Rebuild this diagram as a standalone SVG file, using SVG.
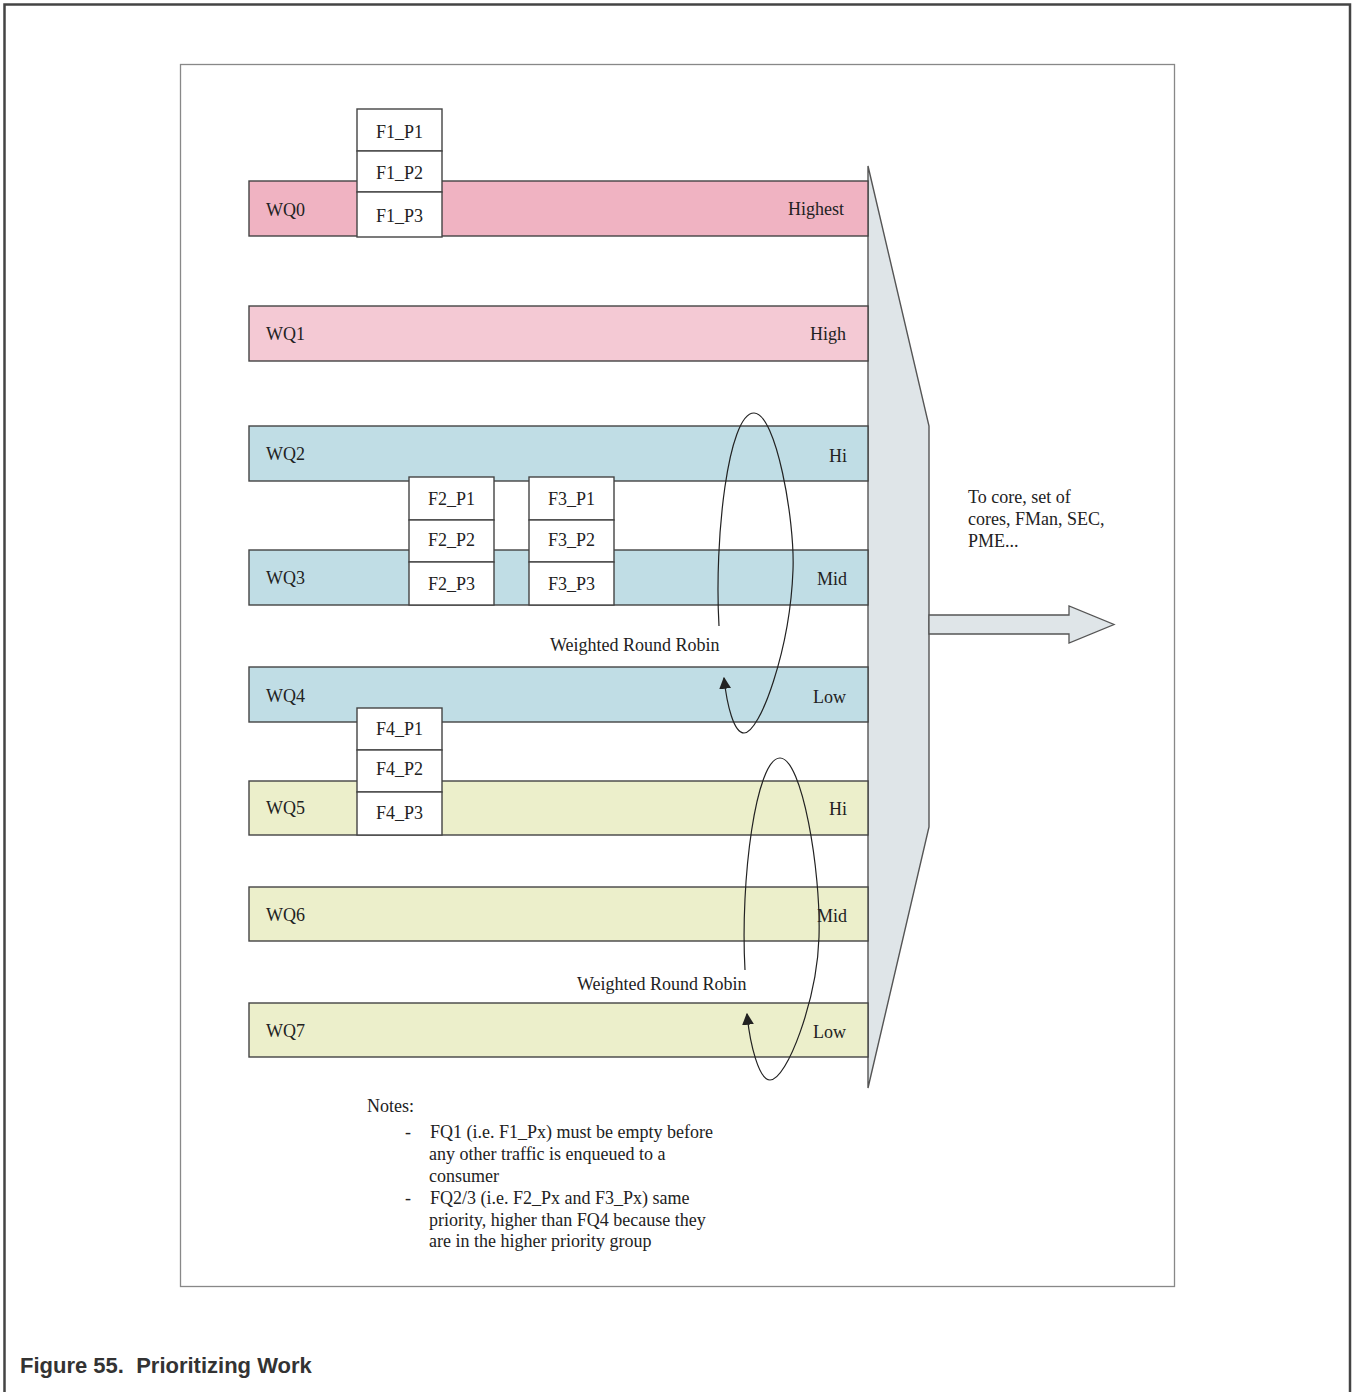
<svg xmlns="http://www.w3.org/2000/svg" width="1352" height="1392" viewBox="0 0 1352 1392">
<defs>
<style>
.t{font-family:"Liberation Serif","Times New Roman",serif;font-size:18px;fill:#222}
.m{text-anchor:middle}
.e{text-anchor:end}
.bar{stroke:#444;stroke-width:1.4}
.pink0{fill:#f0b3c2}
.pink1{fill:#f4c9d4}
.blue{fill:#c0dde5}
.green{fill:#ecefcb}
.box{fill:#fff;stroke:#444;stroke-width:1.4}
.conn{fill:none;stroke:#222;stroke-width:1.2}
</style>
<marker id="ah" viewBox="0 0 10 10" refX="9" refY="5" markerWidth="12" markerHeight="12" markerUnits="userSpaceOnUse" orient="auto">
<path d="M0,0 L10,5 L0,10 Z" fill="#222"/>
</marker>
</defs>
<rect x="0" y="0" width="1352" height="1392" fill="#fff"/>
<rect x="4.5" y="4.5" width="1345.5" height="1400" fill="none" stroke="#444" stroke-width="2.5"/>
<rect x="180.5" y="64.5" width="994" height="1222" fill="none" stroke="#888" stroke-width="1.3"/>

<g id="mux">
<polygon points="868,166 929,426 929,827 868,1088" fill="#dfe5e8" stroke="#555" stroke-width="1.4"/>
</g>
<g id="out-arrow">
<polygon points="929,615 1069,615 1069,606 1114,624.5 1069,643 1069,634 929,634" fill="#dfe5e8" stroke="#555" stroke-width="1.3"/>
</g>

<g id="wq0"><rect class="bar pink0" x="249" y="181" width="619" height="55"/><text class="t" x="266" y="216">WQ0</text><text class="t e" x="844" y="215">Highest</text></g>
<g id="wq1"><rect class="bar pink1" x="249" y="306" width="619" height="55"/><text class="t" x="266" y="340">WQ1</text><text class="t e" x="846" y="340">High</text></g>
<g id="wq2"><rect class="bar blue" x="249" y="426" width="619" height="55"/><text class="t" x="266" y="460">WQ2</text><text class="t e" x="847" y="462">Hi</text></g>
<g id="wq3"><rect class="bar blue" x="249" y="550" width="619" height="55"/><text class="t" x="266" y="584">WQ3</text><text class="t e" x="847" y="585">Mid</text></g>
<g id="wq4"><rect class="bar blue" x="249" y="667" width="619" height="55"/><text class="t" x="266" y="702">WQ4</text><text class="t e" x="846" y="703">Low</text></g>
<g id="wq5"><rect class="bar green" x="249" y="781" width="619" height="54"/><text class="t" x="266" y="814">WQ5</text><text class="t e" x="847" y="815">Hi</text></g>
<g id="wq6"><rect class="bar green" x="249" y="887" width="619" height="54"/><text class="t" x="266" y="921">WQ6</text><text class="t e" x="847" y="922">Mid</text></g>
<g id="wq7"><rect class="bar green" x="249" y="1003" width="619" height="54"/><text class="t" x="266" y="1037">WQ7</text><text class="t e" x="846" y="1038">Low</text></g>

<g id="f1">
<rect class="box" x="357" y="109" width="85" height="42"/><text class="t m" x="399.5" y="138">F1_P1</text>
<rect class="box" x="357" y="151" width="85" height="41"/><text class="t m" x="399.5" y="179">F1_P2</text>
<rect class="box" x="357" y="192" width="85" height="45"/><text class="t m" x="399.5" y="222">F1_P3</text>
</g>
<g id="f2">
<rect class="box" x="409" y="477" width="85" height="43"/><text class="t m" x="451.5" y="505">F2_P1</text>
<rect class="box" x="409" y="520" width="85" height="42"/><text class="t m" x="451.5" y="546">F2_P2</text>
<rect class="box" x="409" y="562" width="85" height="43"/><text class="t m" x="451.5" y="590">F2_P3</text>
</g>
<g id="f3">
<rect class="box" x="529" y="477" width="85" height="43"/><text class="t m" x="571.5" y="505">F3_P1</text>
<rect class="box" x="529" y="520" width="85" height="42"/><text class="t m" x="571.5" y="546">F3_P2</text>
<rect class="box" x="529" y="562" width="85" height="43"/><text class="t m" x="571.5" y="590">F3_P3</text>
</g>
<g id="f4">
<rect class="box" x="357" y="708" width="85" height="42"/><text class="t m" x="399.5" y="735">F4_P1</text>
<rect class="box" x="357" y="750" width="85" height="42"/><text class="t m" x="399.5" y="775">F4_P2</text>
<rect class="box" x="357" y="792" width="85" height="43"/><text class="t m" x="399.5" y="819">F4_P3</text>
</g>

<g id="connectors">
<path class="conn" marker-end="url(#ah)" d="M719,626 C714,540 728,413 754,413 C776,413 795,520 793,570 C790,650 760,733 744,733 C734,733 727,706 724,678"/>
<path class="conn" marker-end="url(#ah)" d="M745,970 C740,880 756,758 780,758 C802,758 821,870 819,937 C817,1000 787,1080 770,1080 C759,1080 750,1045 747,1014"/>
</g>

<g id="labels">
<text class="t" x="550" y="651">Weighted Round Robin</text>
<text class="t" x="577" y="990">Weighted Round Robin</text>
<text class="t" x="968" y="503">To core, set of</text>
<text class="t" x="968" y="525">cores, FMan, SEC,</text>
<text class="t" x="968" y="547">PME...</text>
</g>

<g id="notes">
<text class="t" x="367" y="1112">Notes:</text>
<text class="t" x="405" y="1138">-</text>
<text class="t" x="430" y="1138">FQ1 (i.e. F1_Px) must be empty before</text>
<text class="t" x="429" y="1160">any other traffic is enqueued to a</text>
<text class="t" x="429" y="1182">consumer</text>
<text class="t" x="405" y="1204">-</text>
<text class="t" x="430" y="1204">FQ2/3 (i.e. F2_Px and F3_Px) same</text>
<text class="t" x="429" y="1226">priority, higher than FQ4 because they</text>
<text class="t" x="429" y="1247">are in the higher priority group</text>
</g>

<text x="20" y="1373" xml:space="preserve" style="font-family:'Liberation Sans',Arial,sans-serif;font-size:22px;font-weight:bold;fill:#333;white-space:pre">Figure 55.  Prioritizing Work</text>
</svg>
